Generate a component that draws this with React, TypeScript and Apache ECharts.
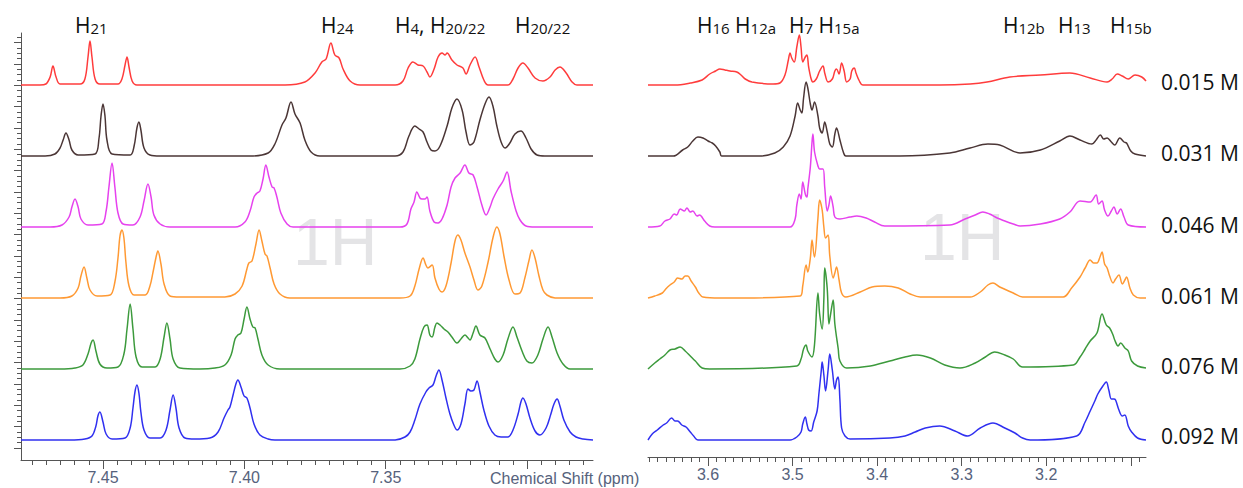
import { useEffect, useRef } from 'react';
import * as echarts from 'echarts';

type Pt = [number, number];

const concentrationLabels = ['0.015 M', '0.031 M', '0.046 M', '0.061 M', '0.076 M', '0.092 M'];
const traceColors = ['#ff3c3c', '#4b3636', '#e642ee', '#ff9933', '#3c9a3c', '#3030f0'];
const baselineOffsets = [375, 304, 233, 162, 91, 20];

const leftMajorTicks = [7.3, 7.35, 7.4, 7.45];
const leftTickLabels = [7.35, 7.4, 7.45];
const rightMajorTicks = [3.1, 3.2, 3.3, 3.4, 3.5, 3.6];
const rightTickLabels = [3.2, 3.3, 3.4, 3.5, 3.6];

// aromatic region (ppm, intensity)
const arom015: Pt[] = [[7.479,0],[7.4723,0],[7.4702,1],[7.4687,8],[7.4677,19],[7.4666,8],[7.4652,1],[7.4581,1],[7.4564,6],[7.4553,28],[7.4546,44],[7.4539,28],[7.4528,6],[7.4511,1],[7.4447,1],[7.4433,6],[7.4422,20],[7.4415,28],[7.4408,18],[7.4397,4],[7.438,0],[7.3856,0],[7.3786,3],[7.375,12],[7.3726,23],[7.3711,26],[7.3694,42],[7.368,30],[7.3665,27],[7.3651,16],[7.3626,4],[7.3591,0],[7.3467,0],[7.3439,4],[7.3421,17],[7.3404,23],[7.3386,20],[7.3368,19],[7.3354,13],[7.3344,8],[7.3329,16],[7.3315,28],[7.3301,32],[7.329,30],[7.3283,32],[7.3266,25],[7.3248,20],[7.3227,17],[7.3216,11],[7.3202,20],[7.3184,28],[7.317,18],[7.3153,5],[7.3138,0],[7.3068,0],[7.305,6],[7.3032,17],[7.3015,22],[7.2997,17],[7.2972,7],[7.2944,4],[7.2919,8],[7.2901,15],[7.2884,18],[7.2862,12],[7.2841,3],[7.2824,0],[7.2767,0]];
const arom031: Pt[] = [[7.479,0],[7.4705,0],[7.467,2],[7.4652,8],[7.4641,16],[7.4631,23],[7.462,16],[7.461,6],[7.4588,1],[7.4528,2],[7.4514,18],[7.4507,40],[7.45,52],[7.4493,40],[7.4486,16],[7.4468,2],[7.4404,1],[7.439,10],[7.438,28],[7.4373,34],[7.4366,26],[7.4355,8],[7.4334,1],[7.4298,0],[7.398,0],[7.3916,3],[7.3892,12],[7.3867,31],[7.3853,38],[7.3835,54],[7.3821,42],[7.3803,33],[7.3786,16],[7.3764,4],[7.3733,0],[7.3467,0],[7.3439,4],[7.3418,20],[7.3397,30],[7.3382,27],[7.3368,24],[7.3354,14],[7.334,6],[7.3326,5],[7.3308,10],[7.3283,30],[7.3266,48],[7.3248,57],[7.323,46],[7.3216,24],[7.3202,11],[7.3188,14],[7.3167,36],[7.3149,52],[7.3135,59],[7.3121,50],[7.3107,30],[7.3092,14],[7.3078,8],[7.3061,13],[7.3043,22],[7.3022,25],[7.3004,18],[7.2986,7],[7.2965,1],[7.2937,0],[7.2767,0]];
const arom046: Pt[] = [[7.479,0],[7.4687,0],[7.4645,2],[7.462,10],[7.461,20],[7.4599,28],[7.4588,20],[7.4578,8],[7.4553,2],[7.4504,3],[7.4489,16],[7.4479,40],[7.4468,64],[7.4458,40],[7.4447,14],[7.4429,3],[7.4394,2],[7.4369,10],[7.4355,26],[7.4341,43],[7.433,30],[7.432,12],[7.4298,3],[7.4263,0],[7.4033,0],[7.3998,5],[7.398,16],[7.3966,30],[7.3955,34],[7.3945,36],[7.3934,48],[7.3924,62],[7.3913,50],[7.3902,40],[7.3895,39],[7.3885,30],[7.3871,14],[7.3849,3],[7.3828,0],[7.345,0],[7.3425,3],[7.3411,18],[7.34,25],[7.339,35],[7.3379,29],[7.3372,28],[7.3361,28],[7.3354,30],[7.3344,16],[7.3329,5],[7.3315,4],[7.3301,8],[7.3283,22],[7.3269,40],[7.3255,49],[7.3237,54],[7.322,62],[7.3206,54],[7.3191,52],[7.3177,40],[7.316,22],[7.3145,12],[7.3131,20],[7.3121,28],[7.3103,38],[7.3085,46],[7.3071,55],[7.3057,36],[7.3039,16],[7.3025,7],[7.3004,1],[7.2972,0],[7.2767,0]];
const arom061: Pt[] = [[7.479,0],[7.4652,0],[7.461,2],[7.4588,10],[7.4578,22],[7.4567,31],[7.4557,20],[7.4546,8],[7.4521,2],[7.4475,3],[7.4458,16],[7.4447,40],[7.444,62],[7.4433,68],[7.4426,60],[7.4419,36],[7.4408,12],[7.439,3],[7.4351,3],[7.4334,12],[7.4323,26],[7.4313,40],[7.4306,47],[7.4295,34],[7.4284,14],[7.4263,2],[7.4228,1],[7.4069,1],[7.4033,4],[7.4008,12],[7.3991,29],[7.3984,35],[7.3973,37],[7.3959,54],[7.3948,68],[7.3938,57],[7.3927,44],[7.392,42],[7.3909,30],[7.3895,14],[7.3874,4],[7.3839,0],[7.345,0],[7.3414,2],[7.3397,12],[7.3382,29],[7.3368,40],[7.3358,33],[7.3351,30],[7.3336,33],[7.3326,20],[7.3312,9],[7.3301,6],[7.3287,12],[7.3269,35],[7.3255,57],[7.3245,63],[7.3234,58],[7.322,45],[7.3202,31],[7.3188,18],[7.3174,8],[7.316,12],[7.3138,36],[7.3121,60],[7.3107,71],[7.3096,64],[7.3082,42],[7.3064,18],[7.3043,4],[7.3025,5],[7.3008,20],[7.2993,38],[7.2983,48],[7.2972,40],[7.2958,22],[7.2944,8],[7.293,3],[7.2901,0],[7.2767,0]];
const arom076: Pt[] = [[7.479,0],[7.4652,0],[7.4599,1],[7.4571,4],[7.4553,15],[7.4542,26],[7.4535,29],[7.4525,18],[7.4511,5],[7.4486,1],[7.4447,2],[7.4426,15],[7.4415,40],[7.4404,65],[7.4394,40],[7.4383,12],[7.4362,2],[7.4316,2],[7.4298,10],[7.4284,32],[7.4274,46],[7.4263,30],[7.4252,10],[7.4228,1],[7.4157,0],[7.4104,1],[7.4069,4],[7.4047,14],[7.4033,30],[7.4023,34],[7.4012,36],[7.4001,50],[7.3991,62],[7.398,50],[7.397,42],[7.3962,41],[7.3952,30],[7.3938,14],[7.3916,4],[7.3874,0],[7.345,0],[7.3414,3],[7.3397,10],[7.3379,30],[7.3365,42],[7.3354,44],[7.3344,34],[7.3336,32],[7.3326,42],[7.3319,46],[7.3308,44],[7.3294,40],[7.328,37],[7.3266,32],[7.3248,26],[7.3234,30],[7.322,34],[7.3209,31],[7.3202,29],[7.3191,36],[7.3181,43],[7.3167,34],[7.3149,31],[7.3131,20],[7.3114,10],[7.3103,7],[7.3085,14],[7.3068,30],[7.305,42],[7.3036,32],[7.3018,18],[7.3001,8],[7.2983,6],[7.2962,14],[7.2944,30],[7.2926,42],[7.2912,32],[7.2894,16],[7.2873,5],[7.2848,0],[7.2767,0]];
const arom092: Pt[] = [[7.479,0],[7.4617,0],[7.4564,1],[7.4539,4],[7.4525,14],[7.4518,24],[7.4511,28],[7.45,18],[7.4489,6],[7.4468,1],[7.4422,2],[7.4404,12],[7.4394,32],[7.4387,48],[7.438,55],[7.4373,47],[7.4366,28],[7.4355,10],[7.4334,2],[7.4298,2],[7.4277,10],[7.4263,30],[7.4252,45],[7.4242,32],[7.4231,12],[7.421,2],[7.4175,1],[7.4122,2],[7.4093,8],[7.4072,22],[7.4058,30],[7.4051,33],[7.404,45],[7.403,56],[7.4023,60],[7.4012,53],[7.4001,44],[7.3991,42],[7.398,32],[7.3966,16],[7.3945,5],[7.3916,1],[7.3892,0],[7.3467,0],[7.3432,3],[7.3414,8],[7.3397,20],[7.3379,36],[7.3358,48],[7.3347,52],[7.3333,55],[7.3322,64],[7.3312,70],[7.3301,60],[7.3287,42],[7.3273,26],[7.3259,15],[7.3248,10],[7.3234,16],[7.322,36],[7.3209,51],[7.3199,49],[7.3188,50],[7.3177,59],[7.3167,48],[7.3153,30],[7.3135,14],[7.3114,5],[7.3092,3],[7.3068,3],[7.305,10],[7.3032,26],[7.3022,38],[7.3015,42],[7.3004,36],[7.299,22],[7.2972,9],[7.2955,5],[7.2933,12],[7.2916,26],[7.2905,36],[7.2894,41],[7.2884,34],[7.287,20],[7.2848,8],[7.2827,3],[7.2802,1],[7.2767,0]];

// aliphatic region (ppm, intensity)
const aliph015: Pt[] = [[3.671,0],[3.639,0],[3.621,2],[3.607,5],[3.598,11],[3.591,14],[3.586,16],[3.58,15],[3.574,14],[3.566,13],[3.561,10],[3.556,6],[3.548,3],[3.523,1],[3.515,2],[3.509,10],[3.505,25],[3.503,32],[3.501,27],[3.498,23],[3.495,38],[3.492,50],[3.49,38],[3.488,23],[3.485,28],[3.483,30],[3.481,18],[3.478,6],[3.476,3],[3.472,6],[3.468,14],[3.464,19],[3.462,12],[3.458,3],[3.453,6],[3.45,14],[3.448,16],[3.445,11],[3.442,22],[3.439,14],[3.436,3],[3.432,6],[3.43,14],[3.427,17],[3.425,12],[3.421,4],[3.417,0],[3.326,0],[3.29,1],[3.27,3],[3.243,8],[3.207,10],[3.172,12],[3.148,7],[3.128,3],[3.122,6],[3.116,11],[3.11,9],[3.103,6],[3.095,10],[3.087,8],[3.082,4]];
const aliph031: Pt[] = [[3.671,0],[3.641,0],[3.63,6],[3.624,9],[3.618,15],[3.612,19],[3.606,18],[3.6,15],[3.595,13],[3.591,10],[3.586,4],[3.584,0],[3.539,0],[3.521,3],[3.511,9],[3.503,20],[3.497,40],[3.494,53],[3.491,46],[3.489,43],[3.487,58],[3.484,74],[3.482,68],[3.479,52],[3.477,46],[3.474,54],[3.47,40],[3.468,28],[3.465,23],[3.462,34],[3.459,24],[3.456,12],[3.453,9],[3.45,22],[3.448,28],[3.444,16],[3.44,4],[3.437,0],[3.373,0],[3.314,3],[3.29,8],[3.269,12],[3.255,11],[3.231,3],[3.207,6],[3.184,15],[3.172,20],[3.16,16],[3.146,12],[3.141,16],[3.136,21],[3.132,17],[3.128,18],[3.123,14],[3.119,11],[3.113,18],[3.108,14],[3.105,13],[3.1,5],[3.095,2],[3.082,0]];
const aliph046: Pt[] = [[3.671,0],[3.657,1],[3.651,6],[3.645,8],[3.64,13],[3.637,12],[3.633,18],[3.628,16],[3.625,19],[3.621,15],[3.618,16],[3.613,11],[3.61,12],[3.604,6],[3.598,1],[3.592,0],[3.503,0],[3.497,8],[3.495,22],[3.492,33],[3.49,28],[3.488,45],[3.485,33],[3.483,30],[3.482,38],[3.479,60],[3.477,85],[3.476,93],[3.474,75],[3.47,61],[3.468,58],[3.464,58],[3.462,40],[3.459,16],[3.457,22],[3.455,31],[3.452,20],[3.45,10],[3.444,8],[3.432,10],[3.424,11],[3.413,9],[3.403,5],[3.391,1],[3.314,2],[3.296,8],[3.284,12],[3.275,15],[3.267,13],[3.258,9],[3.249,6],[3.239,3],[3.231,1],[3.207,3],[3.184,8],[3.172,15],[3.16,26],[3.148,25],[3.141,32],[3.138,23],[3.134,26],[3.131,17],[3.127,11],[3.123,16],[3.12,20],[3.116,13],[3.112,18],[3.108,10],[3.103,2],[3.082,0]];
const aliph061: Pt[] = [[3.671,0],[3.663,2],[3.654,5],[3.65,9],[3.645,13],[3.64,16],[3.636,20],[3.631,19],[3.627,22],[3.624,22],[3.62,17],[3.615,11],[3.611,5],[3.606,1],[3.586,0],[3.491,2],[3.488,12],[3.484,33],[3.482,26],[3.479,40],[3.477,58],[3.475,45],[3.474,41],[3.47,80],[3.468,98],[3.465,88],[3.463,71],[3.461,60],[3.458,63],[3.456,42],[3.452,20],[3.45,25],[3.448,31],[3.445,18],[3.442,5],[3.437,1],[3.42,6],[3.406,11],[3.391,12],[3.375,10],[3.361,4],[3.349,1],[3.29,1],[3.278,6],[3.269,13],[3.263,15],[3.255,11],[3.239,5],[3.228,1],[3.18,1],[3.17,10],[3.16,21],[3.154,30],[3.148,38],[3.144,35],[3.14,35],[3.136,42],[3.134,46],[3.131,34],[3.128,30],[3.125,22],[3.121,15],[3.118,19],[3.114,23],[3.11,14],[3.107,18],[3.105,21],[3.101,10],[3.097,3],[3.089,0],[3.082,0]];
const aliph076: Pt[] = [[3.671,0],[3.663,6],[3.657,10],[3.651,14],[3.645,19],[3.639,20],[3.633,22],[3.627,18],[3.621,13],[3.615,8],[3.607,1],[3.598,0],[3.495,3],[3.49,10],[3.487,20],[3.484,24],[3.482,18],[3.477,12],[3.474,25],[3.47,76],[3.468,55],[3.465,40],[3.463,70],[3.462,101],[3.459,80],[3.457,45],[3.455,55],[3.452,69],[3.45,45],[3.446,20],[3.444,8],[3.436,1],[3.408,3],[3.385,8],[3.367,12],[3.353,14],[3.337,11],[3.32,4],[3.302,1],[3.284,6],[3.272,12],[3.261,17],[3.249,14],[3.239,10],[3.228,2],[3.168,4],[3.16,12],[3.154,20],[3.148,28],[3.14,36],[3.134,55],[3.129,44],[3.125,41],[3.121,34],[3.119,29],[3.115,23],[3.112,26],[3.107,21],[3.103,18],[3.099,8],[3.092,3],[3.082,1]];
const aliph092: Pt[] = [[3.671,0],[3.666,6],[3.66,10],[3.653,15],[3.649,17],[3.643,22],[3.639,19],[3.636,19],[3.631,15],[3.626,13],[3.621,8],[3.617,4],[3.612,0],[3.503,0],[3.495,3],[3.49,8],[3.488,16],[3.485,23],[3.483,16],[3.481,10],[3.478,9],[3.475,18],[3.471,29],[3.469,45],[3.466,70],[3.465,78],[3.463,65],[3.461,49],[3.458,70],[3.456,86],[3.453,70],[3.45,51],[3.448,60],[3.446,63],[3.444,40],[3.442,12],[3.438,4],[3.432,1],[3.385,2],[3.367,4],[3.355,8],[3.343,12],[3.326,14],[3.308,9],[3.293,4],[3.278,12],[3.263,17],[3.249,12],[3.237,7],[3.228,2],[3.219,0],[3.164,4],[3.154,18],[3.148,29],[3.142,40],[3.139,46],[3.133,54],[3.129,58],[3.126,50],[3.123,41],[3.12,41],[3.118,40],[3.114,30],[3.11,24],[3.107,25],[3.103,14],[3.099,8],[3.092,2],[3.082,0]];

const aromaticSpectra = [arom015, arom031, arom046, arom061, arom076, arom092];
const aliphaticSpectra = [aliph015, aliph031, aliph046, aliph061, aliph076, aliph092];

const fullLabelFont = 'Open Sans';

function rangeTicks(from: number, to: number, step: number, skipStep: number): number[] {
  const out: number[] = [];
  const n = Math.round((to - from) / step);
  for (let i = 0; i <= n; i++) {
    const v = Number((from + i * step).toFixed(4));
    const r = v / skipStep;
    if (Math.abs(r - Math.round(r)) < 1e-6) continue;
    out.push(v);
  }
  return out;
}

function peakLabel(x: number, y: number, parts: [string, string][]) {
  const text = parts.map(([t, s]) => `{h|${t}}{s|${s}}`).join('');
  return {
    type: 'text',
    x,
    y,
    style: {
      text,
      textAlign: 'left',
      textVerticalAlign: 'middle',
      fill: '#111',
      rich: {
        h: { fontSize: 21, fontFamily: fullLabelFont, lineHeight: 21, verticalAlign: 'bottom', fill: '#111' },
        s: { fontSize: 15, fontFamily: fullLabelFont, verticalAlign: 'bottom', fill: '#111' },
      },
    },
  };
}

export default function App() {
  const ref = useRef<HTMLDivElement>(null);
  useEffect(() => {
    if (!ref.current) return;
    const chart = echarts.init(ref.current, undefined, { renderer: 'svg' });
    const axisColor = '#555';
    const labelColor = '#56627c';
    const series: any[] = [];
    aromaticSpectra.forEach((pts, i) => {
      series.push({
        type: 'line', xAxisIndex: 0, yAxisIndex: 0, showSymbol: false, symbol: 'none', smooth: 0.35, z: 3,
        lineStyle: { color: traceColors[i], width: 1.5 },
        data: pts.map(([x, h]) => [x, h + baselineOffsets[i]]),
      });
    });
    aliphaticSpectra.forEach((pts, i) => {
      series.push({
        type: 'line', xAxisIndex: 2, yAxisIndex: 2, showSymbol: false, symbol: 'none', smooth: 0.35, z: 3,
        lineStyle: { color: traceColors[i], width: 1.5 },
        data: pts.map(([x, h]) => [x, h + baselineOffsets[i]]),
      });
    });

    const yMajor: number[] = [];
    const yMinor: number[] = [];
    for (let k = 0; k < 20; k++) yMajor.push(12 + k * 21.33);
    for (let k = 0; k < 80; k++) { if (k % 4 !== 0) yMinor.push(12 + k * 5.333); }

    const tickLabelStyle = { fontFamily: 'Liberation Sans', fontSize: 16, color: labelColor, margin: 9 };

    const concY = [81.5, 153, 224.5, 295.5, 365.5, 435.5];
    const graphics: any[] = [
      { type: 'text', x: 293, y: 242, z: 0, style: { text: '1H', fontFamily: 'Liberation Sans', fontSize: 66, fill: '#e4e4e6', textAlign: 'left', textVerticalAlign: 'middle' } },
      { type: 'text', x: 920, y: 237, z: 0, style: { text: '1H', fontFamily: 'Liberation Sans', fontSize: 66, fill: '#e4e4e6', textAlign: 'left', textVerticalAlign: 'middle' } },
      peakLabel(75, 25, [['H', '21']]),
      peakLabel(321, 25, [['H', '24']]),
      peakLabel(395, 25, [['H', '4'], [', H', '20/22']]),
      peakLabel(515, 25, [['H', '20/22']]),
      peakLabel(697, 25, [['H', '16'], [' H', '12a']]),
      peakLabel(789, 25, [['H', '7'], [' H', '15a']]),
      peakLabel(1003, 25, [['H', '12b']]),
      peakLabel(1058, 25, [['H', '13']]),
      peakLabel(1110, 25, [['H', '15b']]),
      { type: 'text', x: 490, y: 478, style: { text: 'Chemical Shift (ppm)', fontFamily: 'Liberation Sans', fontSize: 16, fill: labelColor, textAlign: 'left', textVerticalAlign: 'middle' } },
      ...concentrationLabels.map((t, i) => ({
        type: 'text', x: 1161, y: concY[i],
        style: { text: t, fontFamily: fullLabelFont, fontSize: 21, fill: '#111', textAlign: 'left', textVerticalAlign: 'middle' },
      })),
    ];

    chart.setOption({
      animation: false,
      backgroundColor: '#ffffff',
      grid: [
        { left: 21, top: 33, width: 572, height: 427 },
        { left: 648, top: 30, width: 498, height: 427 },
      ],
      xAxis: [
        {
          gridIndex: 0, type: 'value', position: 'bottom', min: 7.2767, max: 7.479, inverse: true,
          axisLine: { show: true, lineStyle: { color: axisColor, width: 1 } },
          axisTick: { show: true, customValues: leftMajorTicks, length: 9, lineStyle: { color: axisColor } },
          axisLabel: { ...tickLabelStyle, customValues: leftTickLabels, formatter: (v: number) => v.toFixed(2) },
          splitLine: { show: false },
        },
        {
          gridIndex: 0, type: 'value', position: 'bottom', min: 7.2767, max: 7.479, inverse: true,
          axisLine: { show: false },
          axisTick: { show: true, customValues: rangeTicks(7.28, 7.475, 0.005, 0.05), length: 5, lineStyle: { color: axisColor } },
          axisLabel: { show: false },
          splitLine: { show: false },
        },
        {
          gridIndex: 1, type: 'value', position: 'bottom', min: 3.082, max: 3.671, inverse: true,
          axisLine: { show: true, lineStyle: { color: axisColor, width: 1 } },
          axisTick: { show: true, customValues: rightMajorTicks, length: 9, lineStyle: { color: axisColor } },
          axisLabel: { ...tickLabelStyle, customValues: rightTickLabels, formatter: (v: number) => v.toFixed(1) },
          splitLine: { show: false },
        },
        {
          gridIndex: 1, type: 'value', position: 'bottom', min: 3.082, max: 3.671, inverse: true,
          axisLine: { show: false },
          axisTick: { show: true, customValues: rangeTicks(3.09, 3.67, 0.01, 0.1), length: 5, lineStyle: { color: axisColor } },
          axisLabel: { show: false },
          splitLine: { show: false },
        },
      ],
      yAxis: [
        {
          gridIndex: 0, type: 'value', position: 'left', min: 0, max: 427,
          axisLine: { show: true, lineStyle: { color: axisColor, width: 1 } },
          axisTick: { show: true, customValues: yMajor, length: 7, lineStyle: { color: axisColor } },
          axisLabel: { show: false },
          splitLine: { show: false },
        },
        {
          gridIndex: 0, type: 'value', position: 'left', min: 0, max: 427,
          axisLine: { show: false },
          axisTick: { show: true, customValues: yMinor, length: 4, lineStyle: { color: axisColor } },
          axisLabel: { show: false },
          splitLine: { show: false },
        },
        {
          gridIndex: 1, type: 'value', min: 3, max: 430, show: false,
          splitLine: { show: false },
        },
      ],
      graphic: graphics,
      series,
    });
    return () => chart.dispose();
  }, []);
  return <div ref={ref} style={{ position: 'fixed', left: 0, top: 0, width: 1243, height: 488 }} />;
}
